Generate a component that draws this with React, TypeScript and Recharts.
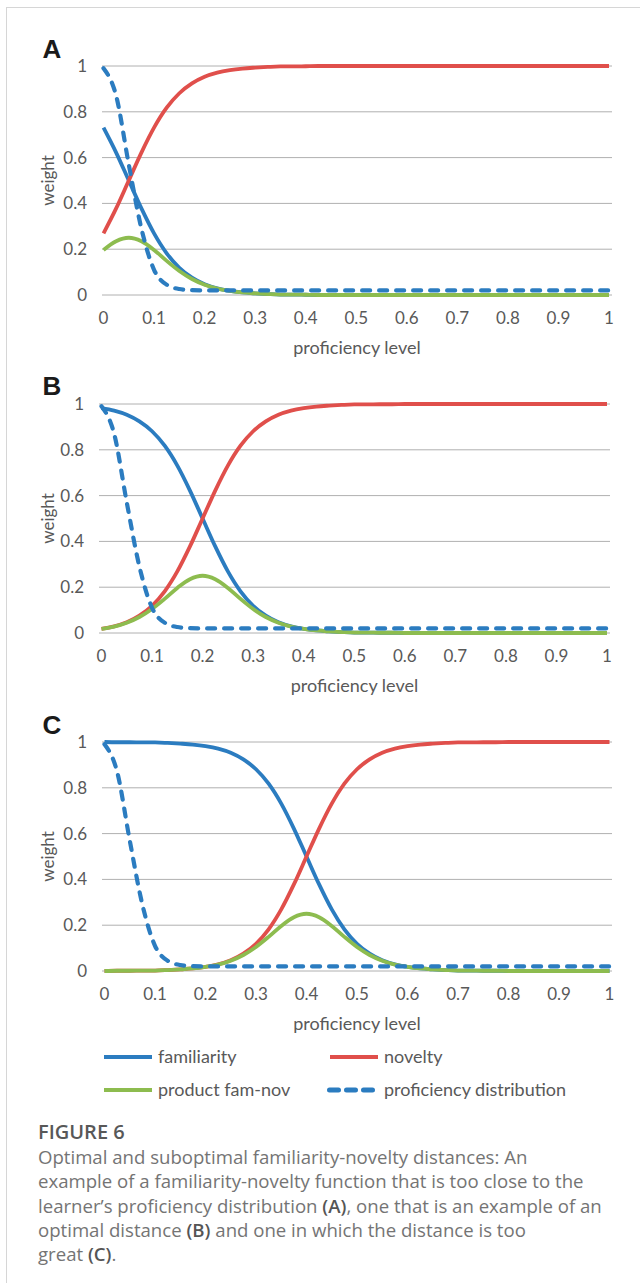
import React from 'react';
import { LineChart, Line, XAxis, YAxis, CartesianGrid } from 'recharts';

// proficiency level (x) sampled every 0.025
const proficiencyLevels = [
  0, 0.025, 0.05, 0.075, 0.1, 0.125, 0.15, 0.175, 0.2, 0.225, 0.25, 0.275, 0.3, 0.325,
  0.35, 0.375, 0.4, 0.425, 0.45, 0.475, 0.5, 0.525, 0.55, 0.575, 0.6, 0.625, 0.65, 0.675,
  0.7, 0.725, 0.75, 0.775, 0.8, 0.825, 0.85, 0.875, 0.9, 0.925, 0.95, 0.975, 1,
];

// learner's proficiency distribution (same in all three panels)
const proficiencyDistribution = [
  0.99, 0.87, 0.57, 0.29, 0.11, 0.045, 0.026, 0.021, 0.02, 0.02, 0.02, 0.02, 0.02, 0.02,
  0.02, 0.02, 0.02, 0.02, 0.02, 0.02, 0.02, 0.02, 0.02, 0.02, 0.02, 0.02, 0.02, 0.02,
  0.02, 0.02, 0.02, 0.02, 0.02, 0.02, 0.02, 0.02, 0.02, 0.02, 0.02, 0.02, 0.02,
];

// panel A
const familiarityA = [
  0.731, 0.622, 0.5, 0.378, 0.269, 0.182, 0.119, 0.076, 0.047, 0.029, 0.018, 0.011, 0.007, 0.004,
  0.002, 0.002, 0.001, 0, 0, 0, 0, 0, 0, 0, 0, 0, 0, 0,
  0, 0, 0, 0, 0, 0, 0, 0, 0, 0, 0, 0, 0,
];
const noveltyA = [
  0.269, 0.378, 0.5, 0.622, 0.731, 0.818, 0.881, 0.924, 0.953, 0.971, 0.982, 0.989, 0.993, 0.996,
  0.998, 0.998, 0.999, 1, 1, 1, 1, 1, 1, 1, 1, 1, 1, 1,
  1, 1, 1, 1, 1, 1, 1, 1, 1, 1, 1, 1, 1,
];
const productA = [
  0.197, 0.235, 0.25, 0.235, 0.197, 0.149, 0.105, 0.07, 0.045, 0.028, 0.018, 0.011, 0.007, 0.004,
  0.002, 0.002, 0.001, 0, 0, 0, 0, 0, 0, 0, 0, 0, 0, 0,
  0, 0, 0, 0, 0, 0, 0, 0, 0, 0, 0, 0, 0,
];

// panel B
const familiarityB = [
  0.982, 0.971, 0.953, 0.924, 0.881, 0.818, 0.731, 0.622, 0.5, 0.378, 0.269, 0.182, 0.119, 0.076,
  0.047, 0.029, 0.018, 0.011, 0.007, 0.004, 0.002, 0.002, 0.001, 0.001, 0, 0, 0, 0,
  0, 0, 0, 0, 0, 0, 0, 0, 0, 0, 0, 0, 0,
];
const noveltyB = [
  0.018, 0.029, 0.047, 0.076, 0.119, 0.182, 0.269, 0.378, 0.5, 0.622, 0.731, 0.818, 0.881, 0.924,
  0.953, 0.971, 0.982, 0.989, 0.993, 0.996, 0.998, 0.998, 0.999, 0.999, 1, 1, 1, 1,
  1, 1, 1, 1, 1, 1, 1, 1, 1, 1, 1, 1, 1,
];
const productB = [
  0.018, 0.028, 0.045, 0.07, 0.105, 0.149, 0.197, 0.235, 0.25, 0.235, 0.197, 0.149, 0.105, 0.07,
  0.045, 0.028, 0.018, 0.011, 0.007, 0.004, 0.002, 0.002, 0.001, 0.001, 0, 0, 0, 0,
  0, 0, 0, 0, 0, 0, 0, 0, 0, 0, 0, 0, 0,
];

// panel C
const familiarityC = [
  1, 0.999, 0.999, 0.998, 0.998, 0.996, 0.993, 0.989, 0.982, 0.971, 0.953, 0.924, 0.881, 0.818,
  0.731, 0.622, 0.5, 0.378, 0.269, 0.182, 0.119, 0.076, 0.047, 0.029, 0.018, 0.011, 0.007, 0.004,
  0.002, 0.002, 0.001, 0.001, 0, 0, 0, 0, 0, 0, 0, 0, 0,
];
const noveltyC = [
  0, 0.001, 0.001, 0.002, 0.002, 0.004, 0.007, 0.011, 0.018, 0.029, 0.047, 0.076, 0.119, 0.182,
  0.269, 0.378, 0.5, 0.622, 0.731, 0.818, 0.881, 0.924, 0.953, 0.971, 0.982, 0.989, 0.993, 0.996,
  0.998, 0.998, 0.999, 0.999, 1, 1, 1, 1, 1, 1, 1, 1, 1,
];
const productC = [
  0, 0.001, 0.001, 0.002, 0.002, 0.004, 0.007, 0.011, 0.018, 0.028, 0.045, 0.07, 0.105, 0.149,
  0.197, 0.235, 0.25, 0.235, 0.197, 0.149, 0.105, 0.07, 0.045, 0.028, 0.018, 0.011, 0.007, 0.004,
  0.002, 0.002, 0.001, 0.001, 0, 0, 0, 0, 0, 0, 0, 0, 0,
];

const xTicks = [0, 0.1, 0.2, 0.3, 0.4, 0.5, 0.6, 0.7, 0.8, 0.9, 1];
const yTicks = [0, 0.2, 0.4, 0.6, 0.8, 1];

const BLUE = '#2b7cc0';
const RED = '#e04f4b';
const GREEN = '#8dbc4f';
const GRID = '#b0b0b0';
const TEXT = '#595959';
const FONT = 'Lato, "Open Sans", sans-serif';
const CAPTION_FONT = '"Open Sans", Lato, sans-serif';
const DASH = '8 9';

interface PanelProps {
  letter: string;
  plotTop: number;
  plotLeft: number;
  plotRight: number;
  padLeft: number;
  padRight: number;
  familiarity: number[];
  novelty: number[];
  product: number[];
}

const Panel: React.FC<PanelProps> = ({ letter, plotTop, plotLeft, plotRight, padLeft, padRight, familiarity, novelty, product }) => {
  const data = proficiencyLevels.map((x, i) => ({
    x,
    familiarity: familiarity[i],
    novelty: novelty[i],
    product: product[i],
    distribution: proficiencyDistribution[i],
  }));
  const tickStyle = { fill: TEXT, fontSize: 17, fontFamily: FONT };

  return (
    <>
      <div
        style={{
          position: 'absolute', left: 42.5, top: plotTop - 30.5, fontFamily: '"Liberation Sans", Arial, sans-serif',
          fontWeight: 700, fontSize: 26, lineHeight: '26px', color: '#1a1a1a',
        }}
      >
        {letter}
      </div>
      <div style={{ position: 'absolute', left: 0, top: plotTop - 20 }}>
        <LineChart width={640} height={324} data={data} margin={{ top: 20, right: 640 - plotRight, bottom: 0, left: 0 }}>
          <CartesianGrid vertical={false} stroke={GRID} strokeWidth={1} />
          <XAxis
            dataKey="x"
            type="number"
            domain={[0, 1]}
            ticks={xTicks}
            interval={0}
            padding={{ left: padLeft, right: padRight }}
            axisLine={false}
            tickLine={false}
            tickSize={0}
            tickMargin={17}
            height={75}
            tick={tickStyle}
            label={{ value: 'proficiency level', position: 'insideBottom', offset: 16, fill: TEXT, fontSize: 18, fontFamily: FONT }}
          />
          <YAxis
            type="number"
            domain={[0, 1]}
            ticks={yTicks}
            interval={0}
            width={plotLeft}
            axisLine={false}
            tickLine={false}
            tickSize={0}
            tickMargin={15}
            tick={tickStyle}
            label={{
              value: 'weight', angle: -90, position: 'insideLeft', offset: 48, fill: TEXT, fontSize: 17,
              fontFamily: FONT, style: { textAnchor: 'middle' },
            }}
          />
          <Line type="monotone" dataKey="familiarity" stroke={BLUE} strokeWidth={3.8} dot={false} isAnimationActive={false} />
          <Line type="monotone" dataKey="novelty" stroke={RED} strokeWidth={3.8} dot={false} isAnimationActive={false} />
          <Line type="monotone" dataKey="product" stroke={GREEN} strokeWidth={3.8} dot={false} isAnimationActive={false} />
          <Line
            type="monotone"
            dataKey="distribution"
            stroke={BLUE}
            strokeWidth={4.2}
            strokeDasharray={DASH}
            strokeLinecap="round"
            dot={false}
            isAnimationActive={false}
          />
        </LineChart>
      </div>
    </>
  );
};

const LegendItem: React.FC<{ left: number; top: number; textLeft: number; color: string; dashed?: boolean; label: string }> = ({
  left, top, textLeft, color, dashed, label,
}) => (
  <>
    <svg style={{ position: 'absolute', left, top: top - 5 }} width={50} height={10}>
      <line
        x1={dashed ? 2.5 : 0}
        x2={48}
        y1={5}
        y2={5}
        stroke={color}
        strokeWidth={dashed ? 5 : 4}
        strokeDasharray={dashed ? '9 8' : undefined}
        strokeLinecap={dashed ? 'round' : 'butt'}
      />
    </svg>
    <div style={{ position: 'absolute', left: textLeft, top: top - 12, fontSize: 18, lineHeight: '22px', color: TEXT, fontFamily: FONT }}>
      {label}
    </div>
  </>
);

export default function App() {
  return (
    <div style={{ position: 'absolute', left: 0, top: 0, width: 640, height: 1283, background: '#fff', overflow: 'hidden', fontFamily: FONT }}>
      <div style={{ position: 'absolute', left: 6, top: 7, right: 0, height: 1, background: '#d6d6d6' }} />
      <div style={{ position: 'absolute', left: 6, top: 7, width: 1, bottom: 0, background: '#d6d6d6' }} />

      <Panel letter="A" plotTop={66} plotLeft={102} plotRight={612} padLeft={1.5} padRight={3}
        familiarity={familiarityA} novelty={noveltyA} product={productA} />
      <Panel letter="B" plotTop={403.5} plotLeft={99} plotRight={610} padLeft={2.5} padRight={3}
        familiarity={familiarityB} novelty={noveltyB} product={productB} />
      <Panel letter="C" plotTop={742} plotLeft={102} plotRight={612} padLeft={2.5} padRight={2.5}
        familiarity={familiarityC} novelty={noveltyC} product={productC} />

      <LegendItem left={104} top={1057} textLeft={158} color={BLUE} label="familiarity" />
      <LegendItem left={330} top={1057} textLeft={384} color={RED} label="novelty" />
      <LegendItem left={104} top={1090} textLeft={158} color={GREEN} label="product fam-nov" />
      <LegendItem left={327} top={1090} textLeft={384} color={BLUE} dashed label="proficiency distribution" />

      <div style={{ position: 'absolute', left: 38, top: 1120, fontFamily: CAPTION_FONT, fontSize: 20, fontWeight: 600, color: '#585858', lineHeight: '24px' }}>
        FIGURE 6
      </div>
      <div style={{ position: 'absolute', left: 38, top: 1145, fontFamily: CAPTION_FONT, fontSize: 18.6, color: '#747474', lineHeight: '24.3px', whiteSpace: 'nowrap' }}>
        Optimal and suboptimal familiarity-novelty distances: An
        <br />
        example of a familiarity-novelty function that is too close to the
        <br />
        learner’s proficiency distribution <b style={{ color: '#555', fontWeight: 600 }}>(A)</b>, one that is an example of an
        <br />
        optimal distance <b style={{ color: '#555', fontWeight: 600 }}>(B)</b> and one in which the distance is too
        <br />
        great <b style={{ color: '#555', fontWeight: 600 }}>(C)</b>.
      </div>
    </div>
  );
}
